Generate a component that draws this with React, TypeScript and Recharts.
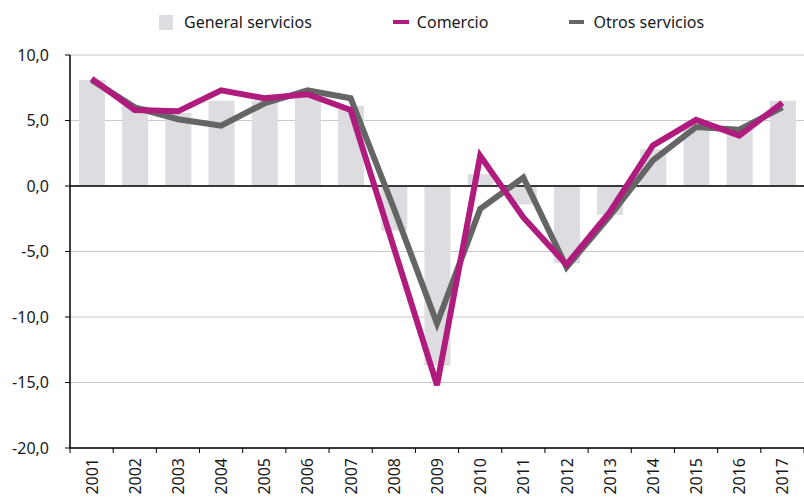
import React from 'react';
import {
  ComposedChart,
  Bar,
  Line,
  XAxis,
  YAxis,
  CartesianGrid,
  ReferenceLine,
  Legend,
} from 'recharts';

const years = ['2001', '2002', '2003', '2004', '2005', '2006', '2007', '2008', '2009', '2010', '2011', '2012', '2013', '2014', '2015', '2016', '2017'];
const generalServicios = [8.1, 6.1, 5.6, 6.5, 6.5, 6.8, 6.1, -3.4, -13.7, 0.9, -1.4, -5.9, -2.2, 2.8, 4.4, 4.4, 6.5];
const comercio = [8.2, 5.8, 5.7, 7.3, 6.7, 7.0, 5.8, -4.7, -15.2, 2.3, -2.4, -6.0, -2.0, 3.1, 5.05, 3.85, 6.35];
const otrosServicios = [8.1, 6.0, 5.1, 4.6, 6.3, 7.3, 6.7, -1.7, -10.5, -1.75, 0.65, -6.2, -2.3, 1.95, 4.5, 4.3, 6.0];
const yTicks = [-20, -15, -10, -5, 0, 5, 10];

const WIDTH = 804;
const HEIGHT = 498;
const AXIS_W = 70;
const FONT = '"Noto Sans", sans-serif';
const BAR_COLOR = '#dcdce1';
const MAGENTA = '#b01c7d';
const GREY = '#646665';

// ancho de cada categoría, para poner las marcas entre años
const band = (WIDTH - AXIS_W) / years.length;

const data = years.map((y, i) => ({
  year: y,
  general: generalServicios[i],
  comercio: comercio[i],
  otros: otrosServicios[i],
}));

const XTick = ({ x, y, payload, index }: any) => (
  <g>
    <line x1={x - band / 2} x2={x - band / 2} y1={y} y2={y + 5} stroke="#000" />
    {index === years.length - 1 && (
      <line x1={x + band / 2} x2={x + band / 2} y1={y} y2={y + 5} stroke="#000" />
    )}
    <text
      x={x}
      y={y + 10}
      transform={`rotate(-90 ${x} ${y + 10})`}
      textAnchor="end"
      dominantBaseline="central"
      fontSize={16}
      fontFamily={FONT}
      fill="#1a1a1a"
    >
      {payload.value}
    </text>
  </g>
);

const LegendContent = () => {
  const item = (swatch: React.ReactNode, label: string, ml: number) => (
    <div style={{ display: 'flex', alignItems: 'center', marginLeft: ml }}>
      {swatch}
      <span style={{ fontSize: 16, color: '#1a1a1a', fontFamily: FONT }}>{label}</span>
    </div>
  );
  return (
    <div style={{ display: 'flex', alignItems: 'center' }}>
      {item(<div style={{ width: 14, height: 15, background: BAR_COLOR, marginRight: 11 }} />, 'General servicios', 0)}
      {item(<div style={{ width: 16, height: 4, background: MAGENTA, marginRight: 8 }} />, 'Comercio', 81)}
      {item(<div style={{ width: 15, height: 4, background: GREY, marginRight: 9 }} />, 'Otros servicios', 81)}
    </div>
  );
};

export default function App() {
  return (
    <div style={{ position: 'absolute', left: 0, top: 0 }}>
      <ComposedChart
        width={WIDTH}
        height={HEIGHT}
        data={data}
        margin={{ top: 33, right: 0, bottom: 0, left: 0 }}
      >
        <CartesianGrid vertical={false} stroke="#c8c8c8" strokeWidth={1.2} />
        <XAxis
          dataKey="year"
          tick={<XTick />}
          tickLine={false}
          tickSize={0}
          tickMargin={0}
          axisLine={{ stroke: '#000', strokeWidth: 1.5 }}
          interval={0}
          height={50}
        />
        <YAxis
          domain={[-20, 10]}
          ticks={yTicks}
          width={AXIS_W}
          tickSize={5}
          tickMargin={16}
          tickLine={{ stroke: '#000' }}
          axisLine={{ stroke: '#000', strokeWidth: 1.5 }}
          tick={{ fontSize: 16, fill: '#1a1a1a', fontFamily: FONT }}
          tickFormatter={(v: number) => v.toFixed(1).replace('.', ',')}
        />
        <Legend
          verticalAlign="top"
          content={<LegendContent />}
          wrapperStyle={{ top: 11, left: 159, width: 'auto' }}
        />
        <Bar dataKey="general" fill={BAR_COLOR} barSize={26} isAnimationActive={false} />
        <ReferenceLine y={0} stroke="#000" strokeWidth={1.5} />
        <Line
          type="linear"
          dataKey="otros"
          stroke={GREY}
          strokeWidth={6}
          dot={false}
          isAnimationActive={false}
        />
        <Line
          type="linear"
          dataKey="comercio"
          stroke={MAGENTA}
          strokeWidth={6}
          dot={false}
          isAnimationActive={false}
        />
      </ComposedChart>
    </div>
  );
}
